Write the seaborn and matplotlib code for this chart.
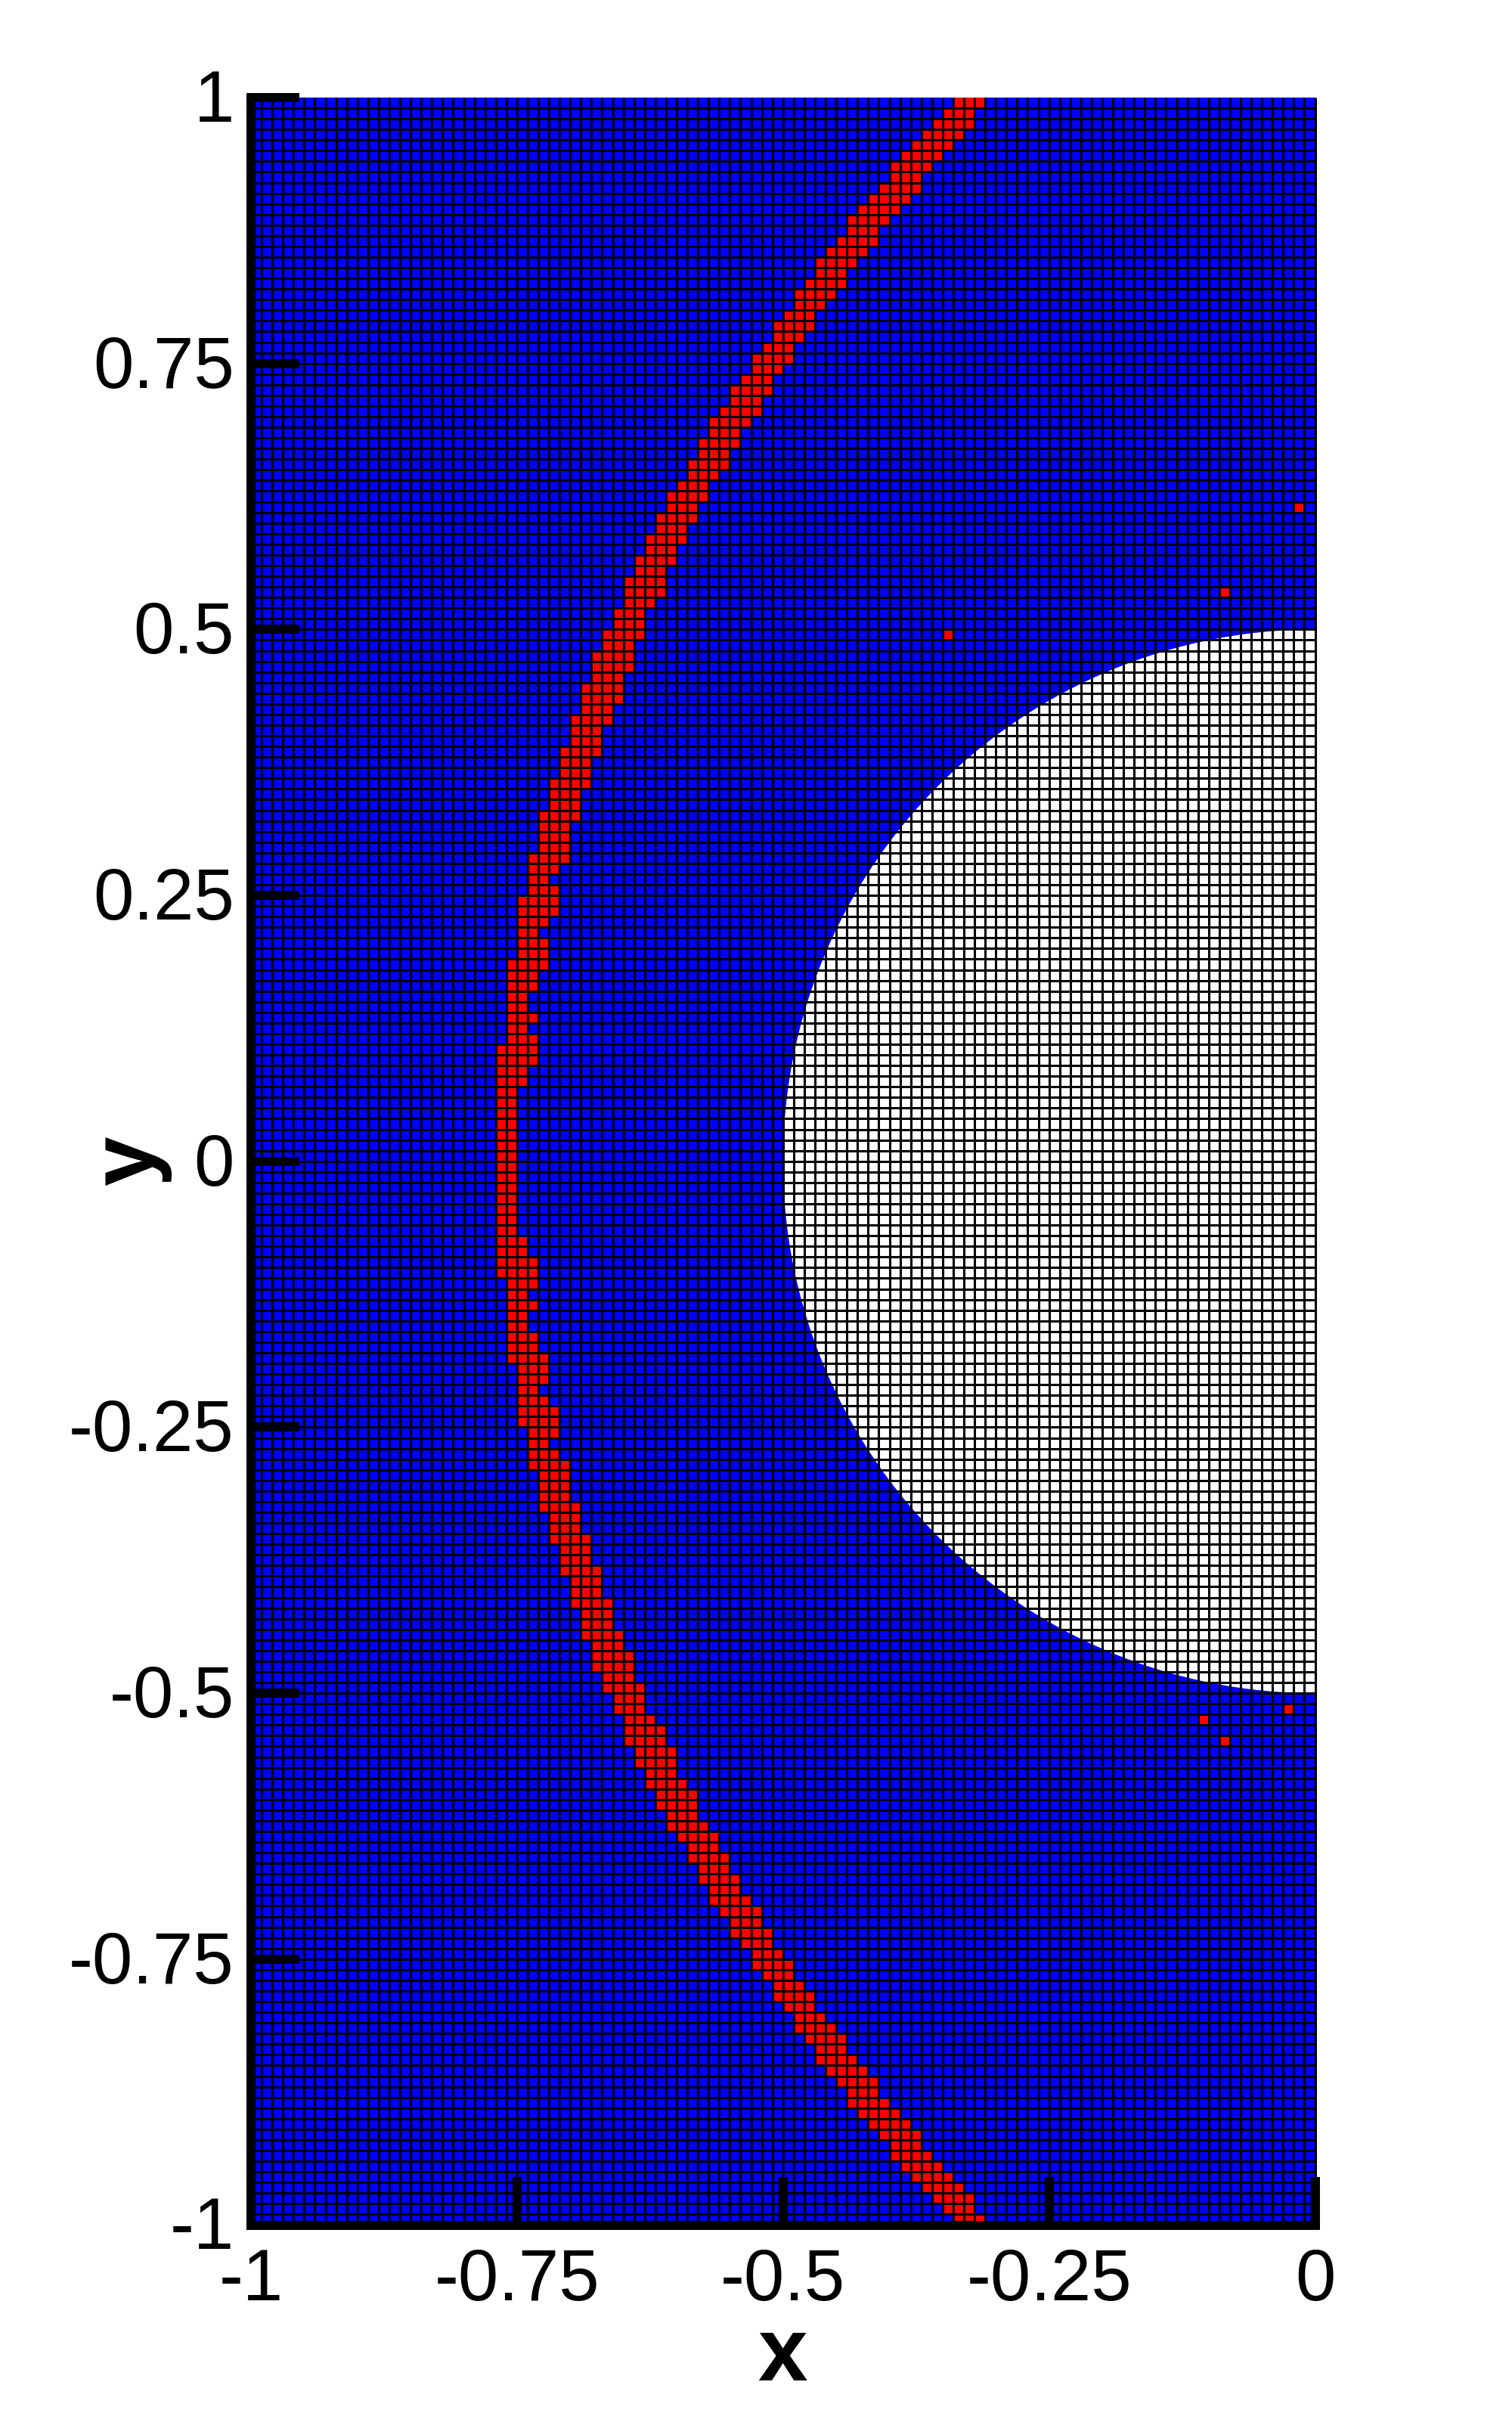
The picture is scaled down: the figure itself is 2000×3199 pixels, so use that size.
"""
Flagged cells on a uniform mesh around a cylinder (half domain).
"""

import numpy as np
import matplotlib
matplotlib.use('Agg')  # no GUI
import matplotlib.pyplot as plt
from matplotlib.colors import ListedColormap
from matplotlib.patches import Circle
from matplotlib.transforms import ScaledTranslation
import seaborn as sns

N_COLS = 100
N_ROWS = 200

# First and last flagged column of every mesh row, top row first
red_start = [
    66, 65, 64, 63, 62, 61, 60, 60, 59, 58,
    57, 56, 56, 55, 54, 53, 53, 52, 51, 51,
    50, 49, 49, 48, 47, 47, 46, 45, 45, 44,
    43, 43, 42, 42, 41, 41, 40, 39, 39, 38,
    38, 37, 37, 36, 36, 35, 35, 35, 34, 34,
    33, 33, 32, 32, 32, 31, 31, 31, 30, 30,
    30, 29, 29, 29, 28, 28, 28, 27, 27, 27,
    27, 26, 26, 26, 26, 25, 25, 25, 25, 25,
    25, 24, 24, 24, 24, 24, 24, 24, 24, 23,
    23, 23, 23, 23, 23, 23, 23, 23, 23, 23,
    23, 23, 23, 23, 23, 23, 23, 23, 23, 23,
    23, 24, 24, 24, 24, 24, 24, 24, 24, 25,
    25, 25, 25, 25, 25, 26, 26, 26, 26, 27,
    27, 27, 27, 28, 28, 28, 29, 29, 29, 30,
    30, 30, 31, 31, 31, 32, 32, 32, 33, 33,
    34, 34, 35, 35, 35, 36, 36, 37, 37, 38,
    38, 39, 39, 40, 41, 41, 42, 42, 43, 43,
    44, 45, 45, 46, 47, 47, 48, 49, 49, 50,
    51, 51, 52, 53, 53, 54, 55, 56, 56, 57,
    58, 59, 60, 60, 61, 62, 63, 64, 65, 66,
]
red_end = [
    68, 67, 67, 66, 65, 64, 63, 62, 62, 61,
    60, 59, 58, 58, 57, 56, 55, 55, 54, 53,
    52, 52, 51, 50, 50, 49, 48, 48, 47, 47,
    46, 45, 45, 44, 44, 43, 42, 42, 41, 41,
    40, 40, 39, 39, 38, 38, 38, 37, 36, 36,
    36, 35, 35, 35, 34, 34, 34, 33, 33, 32,
    32, 32, 31, 31, 31, 30, 30, 30, 29, 29,
    29, 29, 28, 27, 28, 28, 28, 27, 26, 27,
    27, 27, 26, 26, 25, 25, 26, 25, 26, 26,
    26, 25, 25, 24, 24, 24, 24, 24, 24, 24,
    24, 24, 24, 24, 24, 24, 24, 25, 25, 26,
    26, 26, 25, 26, 25, 25, 26, 26, 27, 27,
    27, 26, 27, 28, 28, 28, 27, 28, 29, 29,
    29, 29, 30, 30, 30, 31, 31, 31, 32, 32,
    32, 33, 33, 33, 34, 34, 35, 35, 35, 36,
    36, 36, 37, 38, 38, 39, 39, 39, 40, 41,
    41, 41, 42, 43, 43, 44, 44, 45, 45, 46,
    47, 47, 48, 48, 49, 50, 50, 51, 52, 52,
    53, 54, 55, 55, 56, 57, 58, 58, 59, 60,
    61, 62, 62, 63, 64, 65, 66, 67, 67, 68,
]

# Isolated flagged cells away from the shock
stray_rows = [38, 46, 50, 151, 152, 154]
stray_cols = [98, 91, 65, 97, 89, 91]

x_ticks = [0, 25, 50, 75, 100]
x_labels = ['-1', '-0.75', '-0.5', '-0.25', '0']
y_ticks = [0, 25, 50, 75, 100, 125, 150, 175, 200]
y_labels = ['1', '0.75', '0.5', '0.25', '0', '-0.25', '-0.5', '-0.75', '-1']

# Cylinder radius in mesh cells (0.5 in x/y units)
body_radius = 50

flags = np.zeros((N_ROWS, N_COLS), dtype=int)
for row, (first, last) in enumerate(zip(red_start, red_end)):
    flags[row, first:last + 1] = 1
flags[stray_rows, stray_cols] = 1

sns.set_style('ticks')
plt.rcParams['font.family'] = ['Liberation Sans', 'DejaVu Sans']

W, H = 2000, 3199
fig = plt.figure(figsize=(W / 100, H / 100), dpi=100)
ax = fig.add_axes([332 / W, 1 - 2942.5 / H, (1739.5 - 332) / W, (2942.5 - 129) / H])

sns.heatmap(
    flags,
    cmap=ListedColormap(['#0000ff', '#ff0000']),
    vmin=0,
    vmax=1,
    cbar=False,
    linewidths=0,
    ax=ax
)

ax.add_patch(Circle((N_COLS, N_ROWS / 2), body_radius, facecolor='white', edgecolor='none', zorder=2))

# Mesh lines go over both the cells and the body
ax.vlines(np.arange(1, N_COLS + 1), 0, N_ROWS, color='black', linewidth=2.2, zorder=3, clip_on=False)
ax.hlines(np.arange(1, N_ROWS), 0, N_COLS, color='black', linewidth=2.2, zorder=3)

ax.set_axisbelow(False)  # ticks stay above the mesh
ax.set_xticks(x_ticks)
ax.set_xticklabels(x_labels, rotation=0)
ax.set_yticks(y_ticks)
ax.set_yticklabels(y_labels, rotation=0, va='center')
ax.tick_params(axis='both', direction='in', length=46, width=8.6, color='black', labelcolor='black', labelsize=69)
ax.tick_params(axis='x', pad=21)
ax.tick_params(axis='y', pad=16)

# y labels sit a little below the tick centres
label_shift = ScaledTranslation(0, -7 / 100, fig.dpi_scale_trans)
for label in ax.get_yticklabels():
    label.set_transform(label.get_transform() + label_shift)

for side in ['top', 'right']:
    ax.spines[side].set_visible(False)
for side in ['left', 'bottom']:
    ax.spines[side].set_visible(True)
    ax.spines[side].set_linewidth(8.6)
    ax.spines[side].set_color('black')
    ax.spines[side].set_zorder(6)

fig.text(1035 / W, 1 - 3118 / H, 'x', color='black', fontsize=85, fontweight='bold', ha='center', va='center')
fig.text(172 / W, 1 - 1535 / H, 'y', color='black', fontsize=85, fontweight='bold', rotation=90, ha='center', va='center')

fig.savefig('out.png', dpi=100)
plt.close(fig)
